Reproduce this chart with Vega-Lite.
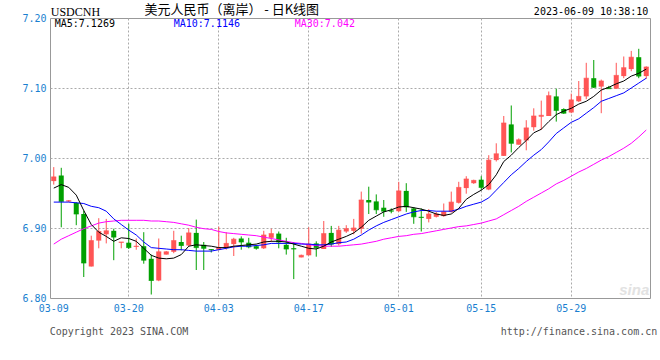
{
  "$schema": "https://vega.github.io/schema/vega-lite/v6.json",
  "width": 600,
  "height": 280,
  "autosize": "none",
  "padding": {"left": 50, "top": 18, "right": 10, "bottom": 62},
  "background": "white",
  "config": {"view": {"stroke": "#999999", "strokeWidth": 1}, "font": "DejaVu Sans Mono"},
  "datasets": {
    "k": [
      {"d":"03-09","o":6.967,"h":6.987,"l":6.962,"c":6.973,"ma5":6.957,"ma10":6.937,"ma30":6.877},
      {"d":"03-10","o":6.975,"h":6.986,"l":6.901,"c":6.938,"ma5":6.962,"ma10":6.937,"ma30":6.884},
      {"d":"03-11","o":6.938,"h":6.940,"l":6.937,"c":6.939,"ma5":6.958,"ma10":6.937,"ma30":6.889},
      {"d":"03-12","o":6.936,"h":6.937,"l":6.904,"c":6.920,"ma5":6.947,"ma10":6.936,"ma30":6.894},
      {"d":"03-13","o":6.920,"h":6.925,"l":6.830,"c":6.850,"ma5":6.925,"ma10":6.935,"ma30":6.899},
      {"d":"03-14","o":6.845,"h":6.889,"l":6.845,"c":6.882,"ma5":6.905,"ma10":6.931,"ma30":6.903},
      {"d":"03-15","o":6.882,"h":6.914,"l":6.871,"c":6.895,"ma5":6.894,"ma10":6.929,"ma30":6.907},
      {"d":"03-16","o":6.891,"h":6.913,"l":6.878,"c":6.896,"ma5":6.888,"ma10":6.924,"ma30":6.909},
      {"d":"03-17","o":6.896,"h":6.899,"l":6.854,"c":6.887,"ma5":6.881,"ma10":6.913,"ma30":6.910},
      {"d":"03-18","o":6.879,"h":6.880,"l":6.871,"c":6.880,"ma5":6.886,"ma10":6.905,"ma30":6.911},
      {"d":"03-20","o":6.879,"h":6.906,"l":6.870,"c":6.872,"ma5":6.885,"ma10":6.897,"ma30":6.911},
      {"d":"03-21","o":6.873,"h":6.885,"l":6.869,"c":6.874,"ma5":6.881,"ma10":6.890,"ma30":6.911},
      {"d":"03-22","o":6.874,"h":6.894,"l":6.849,"c":6.854,"ma5":6.871,"ma10":6.880,"ma30":6.911},
      {"d":"03-23","o":6.856,"h":6.862,"l":6.805,"c":6.825,"ma5":6.861,"ma10":6.872,"ma30":6.910},
      {"d":"03-24","o":6.825,"h":6.885,"l":6.824,"c":6.866,"ma5":6.857,"ma10":6.871,"ma30":6.910},
      {"d":"03-25","o":6.862,"h":6.867,"l":6.862,"c":6.866,"ma5":6.856,"ma10":6.870,"ma30":6.909},
      {"d":"03-27","o":6.866,"h":6.896,"l":6.864,"c":6.882,"ma5":6.857,"ma10":6.869,"ma30":6.908},
      {"d":"03-28","o":6.880,"h":6.889,"l":6.868,"c":6.875,"ma5":6.862,"ma10":6.869,"ma30":6.906},
      {"d":"03-29","o":6.875,"h":6.900,"l":6.874,"c":6.893,"ma5":6.874,"ma10":6.868,"ma30":6.904},
      {"d":"03-30","o":6.893,"h":6.912,"l":6.840,"c":6.872,"ma5":6.876,"ma10":6.867,"ma30":6.901},
      {"d":"03-31","o":6.876,"h":6.880,"l":6.840,"c":6.871,"ma5":6.875,"ma10":6.867,"ma30":6.899},
      {"d":"04-01","o":6.870,"h":6.870,"l":6.865,"c":6.869,"ma5":6.874,"ma10":6.867,"ma30":6.898},
      {"d":"04-03","o":6.869,"h":6.902,"l":6.868,"c":6.872,"ma5":6.872,"ma10":6.869,"ma30":6.895},
      {"d":"04-04","o":6.872,"h":6.894,"l":6.869,"c":6.878,"ma5":6.872,"ma10":6.871,"ma30":6.893},
      {"d":"04-05","o":6.877,"h":6.886,"l":6.860,"c":6.884,"ma5":6.874,"ma10":6.873,"ma30":6.892},
      {"d":"04-06","o":6.885,"h":6.888,"l":6.869,"c":6.880,"ma5":6.875,"ma10":6.874,"ma30":6.891},
      {"d":"04-07","o":6.879,"h":6.886,"l":6.871,"c":6.873,"ma5":6.876,"ma10":6.874,"ma30":6.890},
      {"d":"04-08","o":6.874,"h":6.876,"l":6.869,"c":6.871,"ma5":6.877,"ma10":6.875,"ma30":6.889},
      {"d":"04-10","o":6.871,"h":6.896,"l":6.870,"c":6.890,"ma5":6.880,"ma10":6.876,"ma30":6.887},
      {"d":"04-11","o":6.886,"h":6.899,"l":6.880,"c":6.892,"ma5":6.881,"ma10":6.878,"ma30":6.885},
      {"d":"04-12","o":6.892,"h":6.895,"l":6.871,"c":6.880,"ma5":6.881,"ma10":6.878,"ma30":6.883},
      {"d":"04-13","o":6.876,"h":6.886,"l":6.862,"c":6.870,"ma5":6.880,"ma10":6.878,"ma30":6.881},
      {"d":"04-14","o":6.871,"h":6.880,"l":6.827,"c":6.870,"ma5":6.877,"ma10":6.878,"ma30":6.879},
      {"d":"04-15","o":6.858,"h":6.862,"l":6.858,"c":6.861,"ma5":6.874,"ma10":6.877,"ma30":6.878},
      {"d":"04-17","o":6.861,"h":6.901,"l":6.861,"c":6.877,"ma5":6.871,"ma10":6.877,"ma30":6.876},
      {"d":"04-18","o":6.878,"h":6.881,"l":6.859,"c":6.872,"ma5":6.870,"ma10":6.876,"ma30":6.875},
      {"d":"04-19","o":6.870,"h":6.910,"l":6.870,"c":6.892,"ma5":6.874,"ma10":6.876,"ma30":6.874},
      {"d":"04-20","o":6.893,"h":6.903,"l":6.873,"c":6.877,"ma5":6.880,"ma10":6.877,"ma30":6.874},
      {"d":"04-21","o":6.877,"h":6.903,"l":6.875,"c":6.897,"ma5":6.884,"ma10":6.879,"ma30":6.874},
      {"d":"04-22","o":6.895,"h":6.904,"l":6.893,"c":6.899,"ma5":6.888,"ma10":6.880,"ma30":6.875},
      {"d":"04-24","o":6.896,"h":6.913,"l":6.891,"c":6.900,"ma5":6.893,"ma10":6.884,"ma30":6.876},
      {"d":"04-25","o":6.899,"h":6.952,"l":6.892,"c":6.940,"ma5":6.901,"ma10":6.890,"ma30":6.877},
      {"d":"04-26","o":6.940,"h":6.959,"l":6.920,"c":6.937,"ma5":6.911,"ma10":6.897,"ma30":6.879},
      {"d":"04-27","o":6.938,"h":6.948,"l":6.920,"c":6.926,"ma5":6.917,"ma10":6.903,"ma30":6.881},
      {"d":"04-28","o":6.929,"h":6.940,"l":6.916,"c":6.924,"ma5":6.923,"ma10":6.908,"ma30":6.884},
      {"d":"04-29","o":6.925,"h":6.928,"l":6.921,"c":6.924,"ma5":6.926,"ma10":6.912,"ma30":6.886},
      {"d":"05-01","o":6.924,"h":6.966,"l":6.923,"c":6.953,"ma5":6.930,"ma10":6.916,"ma30":6.888},
      {"d":"05-02","o":6.953,"h":6.964,"l":6.923,"c":6.930,"ma5":6.931,"ma10":6.920,"ma30":6.889},
      {"d":"05-03","o":6.928,"h":6.930,"l":6.906,"c":6.916,"ma5":6.929,"ma10":6.923,"ma30":6.891},
      {"d":"05-04","o":6.916,"h":6.928,"l":6.895,"c":6.915,"ma5":6.927,"ma10":6.925,"ma30":6.892},
      {"d":"05-05","o":6.913,"h":6.927,"l":6.908,"c":6.920,"ma5":6.924,"ma10":6.925,"ma30":6.894},
      {"d":"05-08","o":6.916,"h":6.923,"l":6.915,"c":6.920,"ma5":6.920,"ma10":6.924,"ma30":6.896},
      {"d":"05-09","o":6.917,"h":6.935,"l":6.916,"c":6.923,"ma5":6.918,"ma10":6.924,"ma30":6.898},
      {"d":"05-10","o":6.923,"h":6.952,"l":6.922,"c":6.937,"ma5":6.920,"ma10":6.924,"ma30":6.900},
      {"d":"05-11","o":6.936,"h":6.966,"l":6.935,"c":6.958,"ma5":6.928,"ma10":6.927,"ma30":6.902},
      {"d":"05-12","o":6.957,"h":6.974,"l":6.949,"c":6.970,"ma5":6.941,"ma10":6.931,"ma30":6.903},
      {"d":"05-13","o":6.964,"h":6.969,"l":6.963,"c":6.968,"ma5":6.948,"ma10":6.934,"ma30":6.905},
      {"d":"05-15","o":6.969,"h":6.974,"l":6.954,"c":6.958,"ma5":6.954,"ma10":6.937,"ma30":6.907},
      {"d":"05-16","o":6.955,"h":7.004,"l":6.954,"c":6.997,"ma5":6.962,"ma10":6.943,"ma30":6.910},
      {"d":"05-17","o":6.997,"h":7.021,"l":6.995,"c":7.006,"ma5":6.976,"ma10":6.954,"ma30":6.913},
      {"d":"05-18","o":7.003,"h":7.060,"l":7.003,"c":7.050,"ma5":6.995,"ma10":6.965,"ma30":6.919},
      {"d":"05-19","o":7.048,"h":7.075,"l":7.008,"c":7.021,"ma5":7.004,"ma10":6.976,"ma30":6.925},
      {"d":"05-20","o":7.019,"h":7.028,"l":7.019,"c":7.026,"ma5":7.015,"ma10":6.985,"ma30":6.931},
      {"d":"05-22","o":7.025,"h":7.054,"l":7.011,"c":7.043,"ma5":7.025,"ma10":6.995,"ma30":6.938},
      {"d":"05-23","o":7.044,"h":7.071,"l":7.039,"c":7.060,"ma5":7.036,"ma10":7.004,"ma30":6.944},
      {"d":"05-24","o":7.059,"h":7.082,"l":7.040,"c":7.061,"ma5":7.041,"ma10":7.012,"ma30":6.950},
      {"d":"05-25","o":7.060,"h":7.095,"l":7.060,"c":7.089,"ma5":7.052,"ma10":7.023,"ma30":6.956},
      {"d":"05-26","o":7.088,"h":7.099,"l":7.052,"c":7.068,"ma5":7.062,"ma10":7.035,"ma30":6.963},
      {"d":"05-27","o":7.070,"h":7.071,"l":7.063,"c":7.064,"ma5":7.067,"ma10":7.043,"ma30":6.968},
      {"d":"05-29","o":7.065,"h":7.092,"l":7.064,"c":7.083,"ma5":7.071,"ma10":7.051,"ma30":6.974},
      {"d":"05-30","o":7.081,"h":7.110,"l":7.080,"c":7.088,"ma5":7.077,"ma10":7.056,"ma30":6.980},
      {"d":"05-31","o":7.088,"h":7.136,"l":7.084,"c":7.114,"ma5":7.081,"ma10":7.064,"ma30":6.985},
      {"d":"06-01","o":7.114,"h":7.140,"l":7.100,"c":7.101,"ma5":7.088,"ma10":7.072,"ma30":6.991},
      {"d":"06-02","o":7.102,"h":7.112,"l":7.064,"c":7.110,"ma5":7.097,"ma10":7.081,"ma30":6.997},
      {"d":"06-03","o":7.101,"h":7.103,"l":7.099,"c":7.099,"ma5":7.101,"ma10":7.085,"ma30":7.002},
      {"d":"06-05","o":7.099,"h":7.136,"l":7.099,"c":7.118,"ma5":7.106,"ma10":7.089,"ma30":7.008},
      {"d":"06-06","o":7.117,"h":7.145,"l":7.114,"c":7.129,"ma5":7.110,"ma10":7.093,"ma30":7.014},
      {"d":"06-07","o":7.127,"h":7.153,"l":7.124,"c":7.144,"ma5":7.117,"ma10":7.100,"ma30":7.021},
      {"d":"06-08","o":7.144,"h":7.156,"l":7.114,"c":7.117,"ma5":7.121,"ma10":7.107,"ma30":7.030},
      {"d":"06-09","o":7.117,"h":7.131,"l":7.113,"c":7.130,"ma5":7.127,"ma10":7.114,"ma30":7.040}
    ]
  },
  "data": {"name": "k"},
  "layer": [
    {
      "mark": {"type": "rule", "strokeWidth": 1},
      "encoding": {
        "x": {
          "field": "d", "type": "ordinal", "sort": null,
          "scale": {"type": "band", "paddingInner": 0, "paddingOuter": 0},
          "axis": {
            "title": null,
            "values": ["03-09", "03-20", "04-03", "04-17", "05-01", "05-15", "05-29"],
            "labelAngle": 0,
            "labelColor": "#1a7fd0",
            "labelFont": "DejaVu Sans Mono",
            "labelFontSize": 10,
            "labelPadding": 5,
            "ticks": false,
            "domain": false,
            "grid": true,
            "gridColor": "#aaaaaa",
            "gridDash": [2, 2],
            "gridOpacity": {"condition": {"test": "datum.value === '03-09'", "value": 0}, "value": 1},
            "bandPosition": 0.5
          }
        },
        "y": {
          "field": "l", "type": "quantitative",
          "scale": {"domain": [6.8, 7.2], "zero": false, "nice": false},
          "axis": {
            "title": null,
            "values": [6.8, 6.85, 6.9, 6.95, 7.0, 7.05, 7.1, 7.15, 7.2],
            "format": ".2f",
            "labelColor": "#1a7fd0",
            "labelFont": "DejaVu Sans Mono",
            "labelFontSize": 10,
            "labelPadding": 4,
            "ticks": false,
            "domain": false,
            "grid": true,
            "gridColor": "#aaaaaa",
            "gridDash": [2, 2],
            "gridOpacity": {"condition": {"test": "datum.value < 6.801 || datum.value > 7.199", "value": 0}, "value": 1}
          }
        },
        "y2": {"field": "h"},
        "color": {"condition": {"test": "datum.c >= datum.o", "value": "#ff5555"}, "value": "#00a000"}
      }
    },
    {
      "mark": {"type": "bar", "size": 5},
      "encoding": {
        "x": {"field": "d", "type": "ordinal", "sort": null},
        "y": {"field": "o", "type": "quantitative"},
        "y2": {"field": "c"},
        "color": {"condition": {"test": "datum.c >= datum.o", "value": "#ff5555"}, "value": "#00a000"}
      }
    },
    {
      "mark": {"type": "tick", "size": 5, "thickness": 1},
      "encoding": {
        "x": {"field": "d", "type": "ordinal", "sort": null},
        "y": {"field": "c", "type": "quantitative"},
        "color": {"condition": {"test": "datum.c >= datum.o", "value": "#ff5555"}, "value": "#00a000"}
      }
    },
    {
      "mark": {"type": "line", "color": "#ff00ff", "strokeWidth": 1},
      "encoding": {
        "x": {"field": "d", "type": "ordinal", "sort": null},
        "y": {"field": "ma30", "type": "quantitative"}
      }
    },
    {
      "mark": {"type": "line", "color": "#0000ff", "strokeWidth": 1},
      "encoding": {
        "x": {"field": "d", "type": "ordinal", "sort": null},
        "y": {"field": "ma10", "type": "quantitative"}
      }
    },
    {
      "mark": {"type": "line", "color": "#000000", "strokeWidth": 1},
      "encoding": {
        "x": {"field": "d", "type": "ordinal", "sort": null},
        "y": {"field": "ma5", "type": "quantitative"}
      }
    },
    {
      "data": {"values": [{}]},
      "mark": {"type": "text", "align": "left", "baseline": "middle", "font": "Liberation Serif", "fontSize": 12, "dx": -3, "color": "#000000"},
      "encoding": {"x": {"datum": "03-09"}, "y": {"datum": 7.208}, "text": {"value": "USDCNH"}}
    },
    {
      "data": {"values": [{}]},
      "mark": {"type": "text", "align": "center", "baseline": "middle", "font": "Noto Sans CJK SC", "fontSize": 13, "dx": -2, "color": "#000000"},
      "encoding": {"x": {"datum": "04-05"}, "y": {"datum": 7.211}, "text": {"value": "美元人民币（离岸） - 日K线图"}}
    },
    {
      "data": {"values": [{}]},
      "mark": {"type": "text", "align": "right", "baseline": "middle", "font": "DejaVu Sans Mono", "fontSize": 10, "dx": 2, "color": "#000000"},
      "encoding": {"x": {"datum": "06-09"}, "y": {"datum": 7.208}, "text": {"value": "2023-06-09 10:38:10"}}
    },
    {
      "data": {"values": [{}]},
      "mark": {"type": "text", "align": "left", "baseline": "middle", "font": "DejaVu Sans Mono", "fontSize": 10, "dx": 1, "color": "#000000"},
      "encoding": {"x": {"datum": "03-09"}, "y": {"datum": 7.1914}, "text": {"value": "MA5:7.1269"}}
    },
    {
      "data": {"values": [{}]},
      "mark": {"type": "text", "align": "left", "baseline": "middle", "font": "DejaVu Sans Mono", "fontSize": 10, "dx": 0, "color": "#0000ff"},
      "encoding": {"x": {"datum": "03-27"}, "y": {"datum": 7.1914}, "text": {"value": "MA10:7.1146"}}
    },
    {
      "data": {"values": [{}]},
      "mark": {"type": "text", "align": "left", "baseline": "middle", "font": "DejaVu Sans Mono", "fontSize": 10, "dx": 1, "color": "#ff00ff"},
      "encoding": {"x": {"datum": "04-14"}, "y": {"datum": 7.1914}, "text": {"value": "MA30:7.042"}}
    },
    {
      "data": {"values": [{}]},
      "mark": {"type": "text", "align": "right", "baseline": "middle", "font": "Liberation Sans", "fontSize": 15, "fontStyle": "italic", "fontWeight": "bold", "dx": 3, "color": "#e2e2e2"},
      "encoding": {"x": {"datum": "06-09"}, "y": {"datum": 6.812}, "text": {"value": "sina"}}
    },
    {
      "data": {"values": [{}]},
      "mark": {"type": "text", "align": "left", "baseline": "middle", "font": "DejaVu Sans Mono", "fontSize": 10, "dx": -4, "color": "#555555"},
      "encoding": {"x": {"datum": "03-09"}, "y": {"datum": 6.7514}, "text": {"value": "Copyright 2023 SINA.COM"}}
    },
    {
      "data": {"values": [{}]},
      "mark": {"type": "text", "align": "right", "baseline": "middle", "font": "DejaVu Sans Mono", "fontSize": 10, "dx": 11, "color": "#555555"},
      "encoding": {"x": {"datum": "06-09"}, "y": {"datum": 6.7514}, "text": {"value": "http://finance.sina.com.cn"}}
    }
  ]
}
